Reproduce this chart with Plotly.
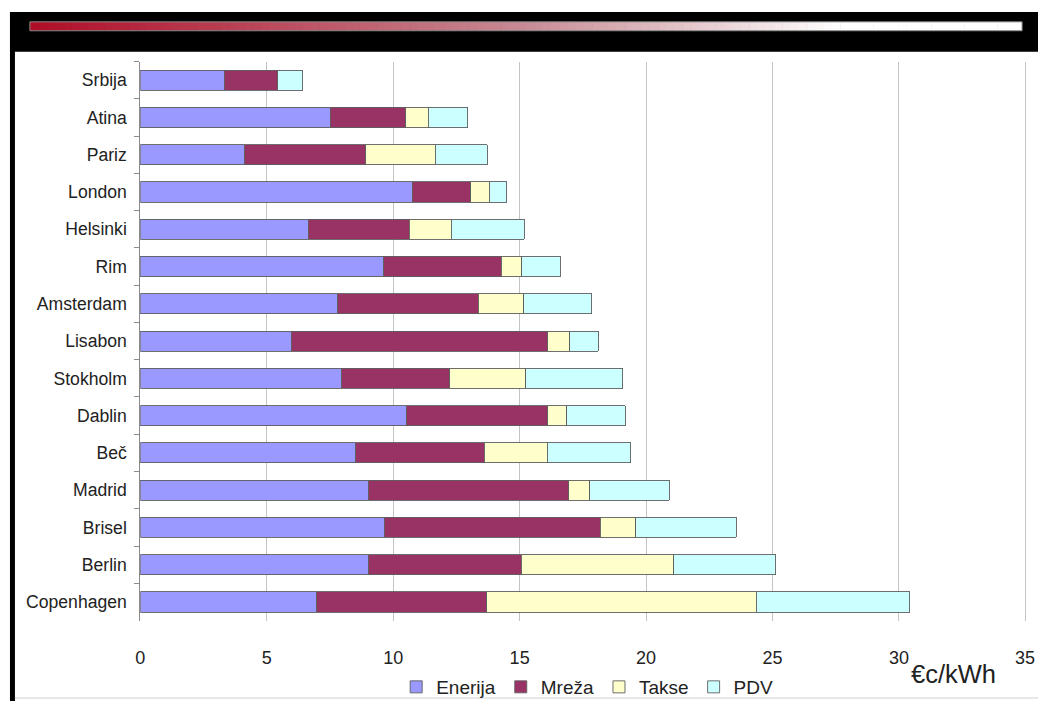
import plotly.graph_objects as go

# ---- data ----
cities = ["Srbija", "Atina", "Pariz", "London", "Helsinki", "Rim", "Amsterdam",
          "Lisabon", "Stokholm", "Dablin", "Beč", "Madrid", "Brisel", "Berlin",
          "Copenhagen"]
enerija = [3.31, 7.52, 4.12, 10.75, 6.65, 9.63, 7.81, 5.96, 7.97, 10.52, 8.52, 9.03, 9.65, 9.03, 6.98]
mreza   = [2.12, 2.98, 4.80, 2.32, 3.98, 4.64, 5.55, 10.15, 4.27, 5.59, 5.08, 7.92, 8.54, 6.03, 6.71]
takse   = [0.00, 0.88, 2.74, 0.72, 1.67, 0.81, 1.80, 0.88, 3.00, 0.76, 2.49, 0.82, 1.41, 6.03, 10.66]
pdv     = [0.99, 1.57, 2.06, 0.70, 2.88, 1.53, 2.70, 1.12, 3.83, 2.30, 3.30, 3.14, 3.97, 4.04, 6.08]

series_names = ["Enerija", "Mreža", "Takse", "PDV"]
series_vals = [enerija, mreza, takse, pdv]
series_colors = ["#9999FF", "#993366", "#FFFFCC", "#CCFFFF"]
x_ticks = [0, 5, 10, 15, 20, 25, 30, 35]
x_ticktext = ["0", "5", "10", "15", "20", "25", "30", ""]
last_tick = 35
unit_label = "€c/kWh"

W, H = 1038, 706
FONT = "Liberation Sans, Arial, sans-serif"

fig = go.Figure()
for name, vals, col in zip(series_names, series_vals, series_colors):
    fig.add_trace(go.Bar(
        y=cities, x=vals, name=name, orientation="h",
        marker=dict(color=col, line=dict(color="#5e5e5e", width=0.9)),
    ))

def px_x(p):
    return min(max(p / W, 0.0), 1.0)

def px_y(p):
    return min(max(1 - p / H, 0.0), 1.0)

shapes = []
shapes.append(dict(type="rect", xref="paper", yref="paper",
                   x0=px_x(5), x1=1.0, y0=px_y(52), y1=px_y(12),
                   fillcolor="black", line=dict(width=0), layer="below"))
shapes.append(dict(type="rect", xref="paper", yref="paper",
                   x0=px_x(5), x1=px_x(10), y0=0, y1=px_y(12),
                   fillcolor="black", line=dict(width=0), layer="below"))
shapes.append(dict(type="line", xref="paper", yref="paper",
                   x0=px_x(10), x1=1.0, y0=px_y(703), y1=px_y(703),
                   line=dict(color="#d0d0d0", width=1), layer="below"))
# decorative gradient bar, dark red -> white
gx0, gx1, gy0, gy1 = 25, 1022, 22, 31
nseg = 120
c0 = (176, 14, 40)
cm = (200, 140, 150)
c1 = (255, 255, 255)
for i in range(nseg):
    t = i / (nseg - 1)
    if t < 0.5:
        u = t / 0.5
        c = tuple(int(c0[k] + (cm[k] - c0[k]) * u) for k in range(3))
    elif t < 0.82:
        u = (t - 0.5) / 0.32
        c = tuple(int(cm[k] + (c1[k] - cm[k]) * u) for k in range(3))
    else:
        c = c1
    xa = gx0 + (gx1 - gx0) * i / nseg
    xb = gx0 + (gx1 - gx0) * (i + 1) / nseg + 0.6
    shapes.append(dict(type="rect", xref="paper", yref="paper",
                       x0=px_x(xa), x1=px_x(min(xb, gx1)), y0=px_y(gy1), y1=px_y(gy0),
                       fillcolor="rgb(%d,%d,%d)" % c, line=dict(width=0), layer="below"))
shapes.append(dict(type="rect", xref="paper", yref="paper",
                   x0=px_x(gx0), x1=px_x(gx1), y0=px_y(gy1), y1=px_y(gy0),
                   fillcolor="rgba(0,0,0,0)", line=dict(color="#888888", width=1), layer="below"))

# x axis: 0 at 136 px, 35 at 1025.3 px; range padded slightly so the 35 gridline is kept
x_max = 35.1
unit_px = (1025.3 - 136) / 35.0
x_right_px = 136 + x_max * unit_px

fig.update_layout(
    autosize=True,
    margin=dict(l=0, r=0, t=0, b=0),
    paper_bgcolor="white", plot_bgcolor="white",
    barmode="stack", bargap=0.46,
    font=dict(family=FONT, color="#222222", size=17),
    shapes=shapes,
    showlegend=True,
    legend=dict(orientation="h", x=px_x(585), xanchor="center",
                y=px_y(692), yanchor="middle",
                font=dict(size=19, family=FONT, color="#222222"),
                bgcolor="rgba(0,0,0,0)", traceorder="normal",
                itemwidth=30, tracegroupgap=0),
    xaxis=dict(domain=[px_x(136), px_x(x_right_px)], range=[0, x_max],
               tickvals=x_ticks, ticktext=x_ticktext,
               showgrid=True, gridcolor="#c4c4c4", gridwidth=1,
               zeroline=False, showline=False, ticks="",
               ticklabelstandoff=24, tickfont=dict(size=18, color="#222222"),
               fixedrange=True),
    yaxis=dict(domain=[px_y(625), px_y(62)], categoryorder="array",
               categoryarray=cities, autorange="reversed",
               showline=True, linecolor="#8a8a8a", linewidth=1,
               ticks="outside", tickson="boundaries", ticklen=5, tickcolor="#8a8a8a",
               ticklabelstandoff=9, showgrid=False,
               tickfont=dict(size=17.6, color="#222222"), fixedrange=True),
    annotations=[
        dict(text=unit_label, xref="paper", yref="paper",
             x=px_x(953), y=px_y(679), xanchor="center", yanchor="middle",
             showarrow=False, font=dict(size=25.5, family=FONT, color="#222222")),
        dict(text=str(last_tick), xref="x", yref="paper",
             x=last_tick, y=px_y(663), xanchor="center", yanchor="middle",
             showarrow=False, font=dict(size=18, family=FONT, color="#222222")),
    ],
)

fig.write_html("out.html", config={"displayModeBar": False},
               default_width="%dpx;position:fixed;left:0;top:0" % W,
               default_height="%dpx" % H)
